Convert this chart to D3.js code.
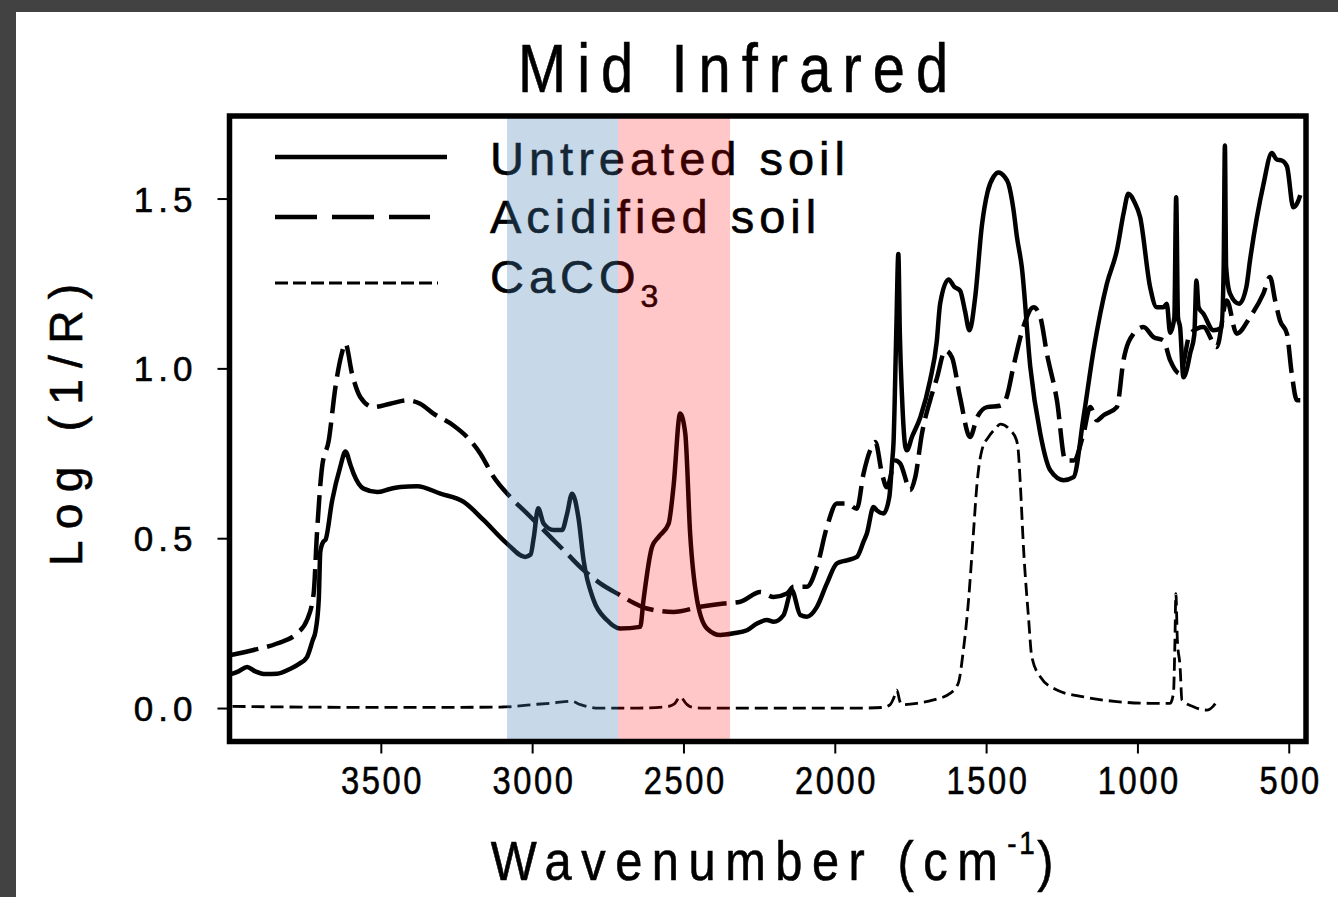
<!DOCTYPE html>
<html>
<head>
<meta charset="utf-8">
<script src="https://cdn.jsdelivr.net/npm/d3@7"></script>
<style>
  body { margin: 0; background: #424242; }
  svg { display: block; }
  text { font-family: "Liberation Sans", Arial, sans-serif; fill: #000; stroke: #000; stroke-width: 0.6px; }
</style>
</head>
<body>
<svg id="chart" width="1338" height="897"></svg>
<script>
// [wavenumber, log(1/R)]
var untreated = [
  [3995,0.100],[3970,0.108],[3942,0.121],[3915,0.108],[3880,0.100],[3843,0.101],[3800,0.115],
  [3770,0.130],[3744,0.150],[3725,0.200],[3716,0.225],[3705,0.320],[3700,0.460],[3690,0.490],
  [3683,0.495],[3661,0.610],[3634,0.710],[3617,0.755],[3600,0.715],[3590,0.690],[3557,0.646],
  [3512,0.636],[3470,0.645],[3436,0.651],[3380,0.653],[3303,0.631],[3226,0.607],[3160,0.553],
  [3083,0.484],[3023,0.445],[3005,0.452],[2995,0.500],[2980,0.588],[2962,0.543],[2929,0.524],
  [2901,0.524],[2885,0.570],[2868,0.631],[2847,0.560],[2830,0.435],[2797,0.318],[2753,0.259],
  [2709,0.234],[2643,0.239],[2632,0.318],[2604,0.474],[2582,0.504],[2549,0.543],[2533,0.651],
  [2511,0.867],[2494,0.808],[2478,0.514],[2455,0.318],[2422,0.234],[2378,0.215],[2334,0.220],
  [2290,0.229],[2257,0.249],[2224,0.259],[2202,0.254],[2169,0.274],[2142,0.347],[2114,0.274],
  [2092,0.269],[2059,0.298],[2026,0.367],[1993,0.426],[1960,0.435],[1927,0.445],[1905,0.490],
  [1894,0.514],[1872,0.592],[1861,0.582],[1839,0.573],[1820,0.620],[1811,0.720],[1806,0.780],
  [1797,1.100],[1790,1.337],[1785,1.100],[1778,0.920],[1767,0.770],[1762,0.759],[1745,0.798],
  [1717,0.857],[1685,0.965],[1663,1.080],[1652,1.190],[1624,1.262],[1605,1.240],[1586,1.229],
  [1570,1.170],[1555,1.112],[1536,1.210],[1514,1.420],[1495,1.520],[1475,1.565],[1459,1.577],
  [1440,1.565],[1426,1.543],[1410,1.470],[1398,1.386],[1382,1.298],[1354,1.004],[1321,0.808],
  [1288,0.700],[1244,0.671],[1211,0.680],[1178,0.857],[1145,1.053],[1101,1.249],[1068,1.347],
  [1045,1.460],[1030,1.514],[1010,1.490],[991,1.445],[958,1.239],[936,1.180],[914,1.180],
  [903,1.190],[892,1.105],[878,1.150],[872,1.504],[866,1.150],[859,1.121],[848,0.974],
  [836,1.000],[826,1.043],[812,1.100],[805,1.259],[798,1.180],[782,1.161],[749,1.112],
  [722,1.120],[715,1.300],[711,1.656],[707,1.300],[694,1.220],[664,1.190],[640,1.240],
  [628,1.318],[584,1.540],[556,1.634],[540,1.615],[523,1.612],[506,1.595],[485,1.474],
  [470,1.490],[462,1.510]
];

var acidified = [
  [3995,0.156],[3920,0.171],[3843,0.190],[3777,0.220],[3744,0.259],[3722,0.337],[3711,0.514],
  [3694,0.710],[3672,0.788],[3650,0.945],[3630,1.040],[3617,1.073],[3595,0.984],[3568,0.916],
  [3524,0.886],[3469,0.896],[3413,0.906],[3370,0.896],[3326,0.867],[3260,0.832],[3215,0.798],
  [3171,0.749],[3127,0.680],[3072,0.621],[3017,0.573],[2951,0.514],[2885,0.455],[2830,0.406],
  [2775,0.367],[2709,0.332],[2665,0.310],[2621,0.293],[2533,0.283],[2445,0.298],[2367,0.308],
  [2312,0.313],[2246,0.342],[2202,0.327],[2158,0.337],[2136,0.357],[2092,0.357],[2059,0.416],
  [2026,0.533],[1993,0.602],[1960,0.602],[1927,0.587],[1905,0.690],[1883,0.759],[1866,0.783],
  [1844,0.690],[1828,0.650],[1800,0.729],[1784,0.720],[1757,0.651],[1751,0.641],[1734,0.680],
  [1712,0.808],[1685,0.906],[1663,0.970],[1635,1.053],[1613,1.033],[1586,0.915],[1553,0.798],
  [1530,0.855],[1497,0.886],[1453,0.890],[1432,0.916],[1410,1.004],[1377,1.122],[1343,1.180],
  [1321,1.151],[1299,1.043],[1266,0.906],[1238,0.729],[1211,0.729],[1178,0.808],[1156,0.886],
  [1134,0.847],[1112,0.862],[1068,0.886],[1046,1.024],[1013,1.102],[980,1.122],[947,1.092],
  [914,1.082],[892,1.024],[859,0.984],[826,1.102],[782,1.122],[738,1.063],[705,1.200],
  [672,1.102],[628,1.151],[584,1.220],[562,1.269],[545,1.200],[529,1.141],[506,1.102],
  [490,0.984],[473,0.906],[462,0.906]
];

var caco3 = [
  [3990,0.005],[3800,0.003],[3500,0.002],[3300,0.002],[3100,0.003],[3000,0.010],[2930,0.015],
  [2870,0.020],[2840,0.010],[2780,0.000],[2650,0.000],[2555,0.004],[2530,0.012],[2511,0.033],
  [2490,0.012],[2478,0.004],[2445,0.000],[2200,0.000],[1900,0.000],[1839,0.002],[1817,0.010],
  [1805,0.030],[1795,0.053],[1785,0.020],[1778,0.010],[1729,0.014],[1674,0.024],[1619,0.043],
  [1592,0.073],[1575,0.171],[1558,0.318],[1542,0.514],[1530,0.661],[1514,0.759],[1492,0.798],
  [1470,0.822],[1453,0.836],[1420,0.818],[1400,0.790],[1393,0.750],[1387,0.660],[1376,0.465],
  [1360,0.268],[1349,0.151],[1321,0.092],[1266,0.053],[1178,0.033],[1068,0.019],[958,0.014],
  [892,0.014],[881,0.043],[876,0.200],[873,0.337],[868,0.200],[859,0.121],[853,0.024],
  [815,0.004],[771,-0.006],[750,0.005],[738,0.019]
];

var bands = [
  {from: 3083, to: 2716, color: "rgba(70,130,180,0.3)"},
  {from: 2716, to: 2346, color: "rgba(255,0,0,0.22)"}
];

var xTicks = [3500, 3000, 2500, 2000, 1500, 1000, 500];
var yTicks = [0, 0.5, 1.0, 1.5];
var legendNames = ["Untreated soil", "Acidified soil", "CaCO"];

var svg = d3.select("#chart");

// white page area inside the dark border
svg.append("rect").attr("x", 0).attr("y", 0).attr("width", 1338).attr("height", 897).attr("fill", "#424242");
svg.append("rect").attr("x", 16).attr("y", 12).attr("width", 1322).attr("height", 885).attr("fill", "#fff");

var box = {left: 229.5, right: 1306, top: 116, bottom: 741.5};

var x = d3.scaleLinear().domain([4000, 443]).range([box.left, box.right]);
var y = d3.scaleLinear().domain([-0.0985, 1.743]).range([box.bottom, box.top]);

var line = d3.line()
  .x(function(d) { return x(d[0]); })
  .y(function(d) { return y(d[1]); })
  .curve(d3.curveMonotoneX);

var styles = [
  {data: untreated, width: 4.5, dash: null},
  {data: acidified, width: 4.5, dash: "28,9"},
  {data: caco3, width: 2.8, dash: "13,6"}
];

styles.forEach(function(s) {
  svg.append("path")
    .datum(s.data)
    .attr("d", line)
    .attr("fill", "none")
    .attr("stroke", "#000")
    .attr("stroke-width", s.width)
    .attr("stroke-linejoin", "round")
    .attr("stroke-dasharray", s.dash);
});

// legend
var legendY = [157, 217, 283];
var legendBase = [175, 233, 293];
var legendDash = [null, "42,15", "13,5"];
var legendW = [4.5, 4.5, 2.8];
var legendEnd = [447, 430, 438];
legendNames.forEach(function(name, i) {
  svg.append("line")
    .attr("x1", 275).attr("x2", legendEnd[i])
    .attr("y1", legendY[i]).attr("y2", legendY[i])
    .attr("stroke", "#000")
    .attr("stroke-width", legendW[i])
    .attr("stroke-dasharray", legendDash[i]);
  var t = svg.append("text")
    .attr("x", 490)
    .attr("y", legendBase[i])
    .attr("font-size", 47)
    .attr("letter-spacing", 5)
    .text(name);
  if (i === 2) {
    t.append("tspan").attr("font-size", 32).attr("dy", 14).text("3");
  }
});

// highlighted regions, drawn over the curves
svg.selectAll("rect.band")
  .data(bands)
  .enter().append("rect")
  .attr("class", "band")
  .attr("x", function(d) { return x(d.from); })
  .attr("width", function(d) { return x(d.to) - x(d.from); })
  .attr("y", box.top)
  .attr("height", box.bottom - box.top)
  .attr("fill", function(d) { return d.color; });

// axes
var xAxis = svg.append("g")
  .attr("transform", "translate(0," + box.bottom + ")")
  .call(d3.axisBottom(x).tickValues(xTicks).tickSize(12).tickPadding(14).tickFormat(d3.format("d")));
var yAxis = svg.append("g")
  .attr("transform", "translate(" + box.left + ",0)")
  .call(d3.axisLeft(y).tickValues(yTicks).tickSize(12).tickPadding(20).tickFormat(d3.format(".1f")));

[xAxis, yAxis].forEach(function(g) {
  g.select("path.domain").remove();
  g.selectAll(".tick line").attr("stroke", "#000").attr("stroke-width", 2);
  g.selectAll(".tick text").attr("font-family", "Liberation Sans, Arial, sans-serif").attr("fill", "#000");
});
xAxis.selectAll(".tick text")
  .attr("font-size", 38)
  .attr("letter-spacing", 3)
  .attr("dx", 1.5)
  .attr("transform", "scale(0.86,1)");
yAxis.selectAll(".tick text").attr("font-size", 35).attr("letter-spacing", 5).attr("dy", "0.36em");

// frame
svg.append("rect")
  .attr("x", box.left).attr("y", box.top)
  .attr("width", box.right - box.left).attr("height", box.bottom - box.top)
  .attr("fill", "none").attr("stroke", "#000").attr("stroke-width", 5.5);

// titles
svg.append("text")
  .attr("transform", "translate(733,92) scale(0.85,1)")
  .attr("text-anchor", "middle")
  .attr("font-size", 68)
  .attr("textLength", 506)
  .attr("lengthAdjust", "spacing")
  .text("Mid Infrared");

var xt = svg.append("text")
  .attr("transform", "translate(777,880) scale(0.87,1)")
  .attr("text-anchor", "middle")
  .attr("font-size", 56)
  .attr("letter-spacing", 11);
xt.append("tspan").text("Wavenumber (cm");
xt.append("tspan").attr("font-size", 32).attr("dy", -26).attr("letter-spacing", 3).text("-1");
xt.append("tspan").attr("dy", 26).text(")");

svg.append("text")
  .attr("transform", "translate(82,425) rotate(-90)")
  .attr("text-anchor", "middle")
  .attr("font-size", 46)
  .attr("textLength", 282)
  .attr("lengthAdjust", "spacing")
  .text("Log (1/R)");
</script>
</body>
</html>
